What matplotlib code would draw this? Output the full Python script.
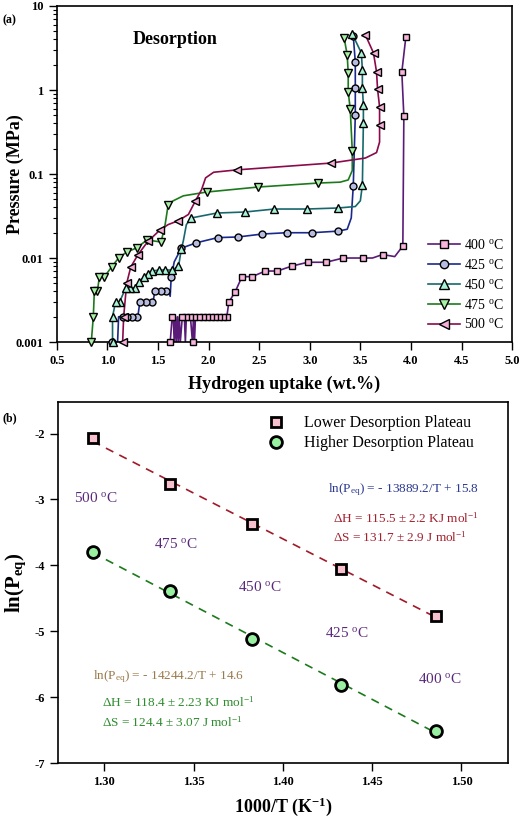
import numpy as np
import matplotlib
matplotlib.use('Agg')
import matplotlib.pyplot as plt

plt.rcParams['font.family'] = 'Liberation Serif'
plt.rcParams['mathtext.fontset'] = 'custom'
plt.rcParams['mathtext.rm'] = 'Liberation Serif'
plt.rcParams['mathtext.it'] = 'Liberation Serif:italic'
plt.rcParams['mathtext.bf'] = 'Liberation Serif:bold'
plt.rcParams['axes.unicode_minus'] = False

# ---- panel (a): desorption PCT curves (wt.%, MPa) ----
# measured points (markers)
x400 = [3.95, 3.91, 3.93, 3.92, 3.72, 3.53, 3.33, 3.16, 2.98, 2.82, 2.68, 2.56, 2.43, 2.33, 2.26, 2.20,
        2.18, 2.14, 2.10, 2.06, 2.02, 1.98, 1.94, 1.90, 1.86, 1.82, 1.78, 1.74, 1.64, 1.62, 1.85]
p400 = [4.3, 1.64, 0.49, 0.0139, 0.0110, 0.0100, 0.0100, 0.0089, 0.0089, 0.0080, 0.0070, 0.0070, 0.0060, 0.0060, 0.0039, 0.0030,
        0.002, 0.002, 0.002, 0.002, 0.002, 0.002, 0.002, 0.002, 0.002, 0.002, 0.002, 0.002, 0.002, 0.001, 0.001]
x425 = [3.43, 3.45, 3.45, 3.45, 3.43, 3.28, 3.02, 2.77, 2.53, 2.29, 2.09, 1.88, 1.73, 1.63,
        1.58, 1.53, 1.47, 1.44, 1.38, 1.32, 1.29, 1.24, 1.19, 1.15, 1.04]
p425 = [4.4, 2.15, 1.06, 0.50, 0.072, 0.0209, 0.0200, 0.0200, 0.0193, 0.0178, 0.0175, 0.0152, 0.0131, 0.0059,
        0.0041, 0.0041, 0.0041, 0.0030, 0.0030, 0.0030, 0.0020, 0.0020, 0.0020, 0.0020, 0.001]
x450 = [3.42, 3.51, 3.52, 3.52, 3.53, 3.53, 3.52, 3.28, 2.97, 2.65, 2.36, 2.08, 1.83, 1.73, 1.70,
        1.64, 1.57, 1.51, 1.44, 1.40, 1.36, 1.31, 1.27, 1.22, 1.18, 1.12, 1.08, 1.05, 1.05]
p450 = [4.64, 2.76, 1.73, 1.06, 0.66, 0.41, 0.074, 0.0394, 0.0383, 0.0383, 0.0353, 0.0343, 0.030, 0.0128, 0.0080,
        0.0072, 0.0072, 0.0072, 0.0070, 0.0065, 0.0059, 0.0052, 0.0044, 0.0044, 0.0044, 0.0030, 0.0030, 0.0020, 0.001]
x475 = [3.34, 3.37, 3.38, 3.38, 3.40, 3.42, 3.08, 2.49, 1.98, 1.60, 1.53, 1.39, 1.29, 1.19, 1.11, 1.04,
        0.97, 0.92, 0.90, 0.87, 0.86, 0.84]
p475 = [4.16, 2.61, 1.59, 0.95, 0.59, 0.19, 0.078, 0.070, 0.061, 0.043, 0.0155, 0.0164, 0.0132, 0.0118, 0.0100, 0.0078,
        0.0060, 0.0060, 0.0040, 0.0040, 0.0020, 0.0010]
x500 = [3.55, 3.63, 3.66, 3.67, 3.69, 3.69, 3.21, 2.28, 1.87, 1.70, 1.52, 1.40, 1.30, 1.23, 1.19, 1.16, 1.15]
p500 = [4.52, 2.76, 1.64, 1.03, 0.63, 0.38, 0.135, 0.112, 0.048, 0.0278, 0.0216, 0.0158, 0.0109, 0.0078, 0.0050, 0.0020, 0.0010]

# traced curves through the points (includes the bends of the fitted line)
c400x = [3.95, 3.91, 3.93, 3.92, 3.84, 3.72, 3.62, 3.53, 3.33, 3.16, 2.98, 2.82, 2.68, 2.56, 2.43, 2.33, 2.26, 2.20, 2.18, 2.14,
         2.10, 2.06, 2.02, 1.98, 1.94, 1.90, 1.87, 1.86, 1.85, 1.84, 1.82, 1.78, 1.77, 1.76, 1.74, 1.72, 1.71, 1.70, 1.69, 1.68,
         1.67, 1.66, 1.65, 1.64, 1.62]
c400p = [4.3, 1.64, 0.49, 0.0139, 0.0104, 0.0110, 0.0100, 0.0100, 0.0100, 0.0089, 0.0089, 0.0080, 0.0070, 0.0070, 0.0060, 0.0060, 0.0039, 0.0030, 0.002, 0.002,
         0.002, 0.002, 0.002, 0.002, 0.002, 0.002, 0.002, 0.001, 0.002, 0.001, 0.002, 0.002, 0.001, 0.002, 0.002, 0.001, 0.002, 0.001, 0.002, 0.001,
         0.002, 0.001, 0.002, 0.002, 0.001]
c425x = [3.43, 3.45, 3.45, 3.45, 3.43, 3.41, 3.37, 3.28, 3.02, 2.77, 2.53, 2.29, 2.09, 1.88, 1.73, 1.66, 1.63, 1.62, 1.60,
         1.58, 1.53, 1.47, 1.45, 1.44, 1.38, 1.32, 1.30, 1.29, 1.24, 1.19, 1.15, 1.11, 1.10]
c425p = [4.4, 2.15, 1.06, 0.50, 0.072, 0.030, 0.022, 0.0209, 0.0200, 0.0200, 0.0193, 0.0178, 0.0175, 0.0152, 0.0131, 0.0090, 0.0059, 0.0035, 0.0041,
         0.0041, 0.0041, 0.0041, 0.0030, 0.0030, 0.0030, 0.0030, 0.0020, 0.0020, 0.0020, 0.0020, 0.0020, 0.0020, 0.001]
c450x = [3.42, 3.51, 3.52, 3.52, 3.53, 3.53, 3.52, 3.50, 3.45, 3.28, 2.97, 2.65, 2.36, 2.08, 1.83, 1.78, 1.75, 1.73, 1.71, 1.70,
         1.64, 1.57, 1.51, 1.44, 1.40, 1.36, 1.31, 1.27, 1.22, 1.18, 1.12, 1.08, 1.05, 1.05]
c450p = [4.64, 2.76, 1.73, 1.06, 0.66, 0.41, 0.074, 0.048, 0.041, 0.0394, 0.0383, 0.0383, 0.0353, 0.0343, 0.030, 0.025, 0.016, 0.0128, 0.009, 0.0080,
         0.0072, 0.0072, 0.0072, 0.0070, 0.0065, 0.0059, 0.0052, 0.0044, 0.0044, 0.0044, 0.0030, 0.0030, 0.0020, 0.001]
c475x = [3.34, 3.37, 3.38, 3.38, 3.40, 3.42, 3.42, 3.38, 3.30, 3.08, 2.49, 1.98, 1.75, 1.65, 1.60, 1.57, 1.53, 1.39, 1.29,
         1.19, 1.11, 1.04, 0.97, 0.92, 0.90, 0.87, 0.86, 0.84]
c475p = [4.16, 2.61, 1.59, 0.95, 0.59, 0.19, 0.11, 0.085, 0.080, 0.078, 0.070, 0.061, 0.055, 0.048, 0.043, 0.025, 0.0155, 0.0164, 0.0132,
         0.0118, 0.0100, 0.0078, 0.0060, 0.0060, 0.0040, 0.0040, 0.0020, 0.0010]
c500x = [3.55, 3.63, 3.66, 3.67, 3.69, 3.69, 3.69, 3.66, 3.55, 3.21, 2.28, 2.05, 1.97, 1.93, 1.87, 1.80, 1.70, 1.60, 1.52,
         1.40, 1.30, 1.23, 1.19, 1.16, 1.15]
c500p = [4.52, 2.76, 1.64, 1.03, 0.63, 0.38, 0.24, 0.18, 0.155, 0.135, 0.112, 0.105, 0.090, 0.065, 0.048, 0.033, 0.0278, 0.025, 0.0216,
         0.0158, 0.0109, 0.0078, 0.0050, 0.0020, 0.0010]

temps = ['400', '425', '450', '475', '500']

# ---- panel (b): van't Hoff ----
invT = [1.2934, 1.3366, 1.3828, 1.4324, 1.4856]
lnp_lower = [-2.07, -2.77, -3.37, -4.05, -4.77]
lnp_higher = [-3.80, -4.39, -5.12, -5.81, -6.51]

fig = plt.figure(figsize=(5.22, 8.21), dpi=100)
ax1 = fig.add_axes([0.109, 0.5834, 0.872, 0.4093])
ax2 = fig.add_axes([0.111, 0.0706, 0.862, 0.4398])

series = [
    (x400, p400, c400x, c400p, 's', '#5a1a78', '#f7b5dc', 4.5),
    (x425, p425, c425x, c425p, 'o', '#1a2a8c', '#b8bce0', 5),
    (x450, p450, c450x, c450p, '^', '#17686c', '#a8f2d6', 6),
    (x475, p475, c475x, c475p, 'v', '#1c7a1c', '#a8f0a4', 6),
    (x500, p500, c500x, c500p, '<', '#8a0a4a', '#f5b0d8', 6),
]
handles = []
for (xm, pm, xc, pc, mk, lc, fc, ms), t in zip(series, temps):
    ax1.plot(xc, pc, '-', color=lc, lw=1.2, zorder=2)
    ax1.plot(xm, pm, ls='none', marker=mk, ms=ms, mfc=fc, mec='black', mew=1.0, zorder=3, clip_on=False)
    h, = ax1.plot([], [], '-', color=lc, lw=1.2, marker=mk, ms=ms + 1, mfc=fc, mec='black', mew=1.0)
    handles.append(h)

ax1.set_yscale('log')
ax1.set_xlim(0.5, 5.0)
ax1.set_ylim(0.001, 10)
ax1.set_xticks(np.arange(0.5, 5.01, 0.5))
ax1.set_xticklabels(['%.1f' % v for v in np.arange(0.5, 5.01, 0.5)])
ax1.set_yticks([0.001, 0.01, 0.1, 1, 10])
ax1.set_yticklabels(['0.001', '0.01', '0.1', '1', '10'])
ax1.tick_params(axis='both', which='major', direction='out', length=6, width=1, labelsize=9, top=False, right=False)
ax1.tick_params(axis='y', which='minor', direction='out', length=3, width=0.8, right=False)
for lab in ax1.get_xticklabels() + ax1.get_yticklabels():
    lab.set_fontweight('bold')
ax1.set_xlabel('Hydrogen uptake (wt.%)', fontsize=13, fontweight='bold', labelpad=6)
ax1.set_ylabel('Pressure (MPa)', fontsize=13, fontweight='bold')
ax1.yaxis.set_label_coords(-0.072, 0.5)
ax1.text(0.26, 0.90, 'Desorption', transform=ax1.transAxes, fontsize=13, fontweight='bold', ha='center', va='center')
ax1.legend(handles, [t + r' $^{\mathrm{o}}$C' for t in temps], loc='upper left', bbox_to_anchor=(0.80, 0.33),
           frameon=False, fontsize=10, handlelength=2.3, handletextpad=0.3, labelspacing=0.42, borderpad=0)
for s in ax1.spines.values():
    s.set_linewidth(1.2)

# panel (b)
k_lo = np.polyfit(invT, lnp_lower, 1)
k_hi = np.polyfit(invT, lnp_higher, 1)
xt = np.array([invT[0], invT[-1]])
ax2.plot(xt, np.polyval(k_lo, xt), '--', color='#a01a28', lw=1.2, dashes=(5, 4), zorder=2)
ax2.plot(xt, np.polyval(k_hi, xt), '--', color='#1c7a1c', lw=1.2, dashes=(5, 4), zorder=2)
ax2.plot(invT, lnp_lower, ls='none', marker='s', ms=7.5, mfc='#f7c0cc', mec='black', mew=2.0, zorder=3,
         label='Lower Desorption Plateau')
ax2.plot(invT, lnp_higher, ls='none', marker='o', ms=8.5, mfc='#98f0a0', mec='black', mew=2.0, zorder=3,
         label='Higher Desorption Plateau')
ax2.set_xlim(1.274, 1.526)
ax2.set_ylim(-7, -1.52)
ax2.set_xticks([1.30, 1.35, 1.40, 1.45, 1.50])
ax2.set_xticklabels(['1.30', '1.35', '1.40', '1.45', '1.50'])
ax2.set_yticks([-7, -6, -5, -4, -3, -2])
ax2.set_yticklabels(['-7', '-6', '-5', '-4', '-3', '-2'])
ax2.tick_params(axis='both', direction='out', length=6, width=1, labelsize=9, top=False, right=False)
for lab in ax2.get_xticklabels() + ax2.get_yticklabels():
    lab.set_fontweight('bold')
ax2.set_xlabel(r'1000/T (K$^{\mathbf{-1}}$)', fontsize=13, fontweight='bold')
ax2.xaxis.set_label_coords(0.5, -0.09)
ax2.set_ylabel(r'ln(P$_{\mathbf{eq}}$)', fontsize=15, fontweight='bold')
ax2.yaxis.set_label_coords(-0.066, 0.5)
ax2.legend(loc='upper left', bbox_to_anchor=(0.45, 0.985), frameon=False, fontsize=11.5,
           handlelength=1.0, handletextpad=1.2, labelspacing=0.25, borderpad=0)
for s in ax2.spines.values():
    s.set_linewidth(1.2)

tcol = '#5a2a7a'
for t, (tx, ty) in zip(['500', '475', '450', '425', '400'],
                       [(1.295, -2.97), (1.340, -3.68), (1.387, -4.33), (1.436, -5.02), (1.4877, -5.73)]):
    ax2.text(tx, ty, t + r' $^{\mathrm{o}}$C', color=tcol, fontsize=11, ha='center', va='center')

ax2.text(0.60, 0.756, r'ln(P$_{\mathrm{eq}}$) = - 13889.2/T + 15.8', transform=ax2.transAxes,
         color='#2b3990', fontsize=9.5, va='center')
ax2.text(0.611, 0.679, r'ΔH = 115.5 ± 2.2 KJ mol$^{\mathrm{-1}}$', transform=ax2.transAxes,
         color='#a3202e', fontsize=9.5, va='center')
ax2.text(0.611, 0.626, r'ΔS = 131.7 ± 2.9 J mol$^{\mathrm{-1}}$', transform=ax2.transAxes,
         color='#a3202e', fontsize=9.5, va='center')
ax2.text(0.078, 0.238, r'ln(P$_{\mathrm{eq}}$) = - 14244.2/T + 14.6', transform=ax2.transAxes,
         color='#9b7a4a', fontsize=9.5, va='center')
ax2.text(0.098, 0.169, r'ΔH = 118.4 ± 2.23 KJ mol$^{\mathrm{-1}}$', transform=ax2.transAxes,
         color='#2e8b2e', fontsize=9.5, va='center')
ax2.text(0.098, 0.114, r'ΔS = 124.4 ± 3.07 J mol$^{\mathrm{-1}}$', transform=ax2.transAxes,
         color='#2e8b2e', fontsize=9.5, va='center')

fig.text(0.004, 0.975, '(a)', fontsize=8.5, fontweight='bold', va='center')
fig.text(0.004, 0.491, '(b)', fontsize=8.5, fontweight='bold', va='center')

fig.savefig('out.png', dpi=100)
